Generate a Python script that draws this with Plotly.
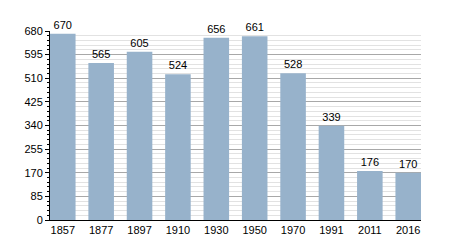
import plotly.graph_objects as go

years = ["1857", "1877", "1897", "1910", "1930", "1950", "1970", "1991", "2011", "2016"]
population = [670, 565, 605, 524, 656, 661, 528, 339, 176, 170]
y_ticks = [0, 85, 170, 255, 340, 425, 510, 595, 680]

fig = go.Figure(go.Bar(
    x=years, y=population,
    marker=dict(color="#97b2cb", line=dict(width=0)),
    text=[str(v) for v in population], textposition="outside",
    textfont=dict(family="Liberation Sans, Arial", size=11, color="#000"),
    cliponaxis=False,
))

fig.update_layout(
    width=450, height=250,
    margin=dict(l=50, r=29, t=31, b=30),
    paper_bgcolor="white", plot_bgcolor="white",
    bargap=0.334, showlegend=False,
    font=dict(family="Liberation Sans, Arial", size=11, color="#000"),
    xaxis=dict(type="category", range=[-0.333, 9.333], showgrid=False, showline=True,
               linecolor="#000", linewidth=1, ticks="", tickfont=dict(size=11)),
    yaxis=dict(range=[0, 680], tickvals=y_ticks, showline=True, linecolor="#000",
               linewidth=1, ticks="outside", ticklen=4, tickcolor="#000",
               gridcolor="#a8a8a8", gridwidth=1, zeroline=False,
               tickfont=dict(size=11),
               minor=dict(dtick=17, tick0=0, ticks="outside", ticklen=2,
                          tickcolor="#000", showgrid=True, gridcolor="#e2e2e2",
                          gridwidth=1)),
)

fig.write_html("out.html")
